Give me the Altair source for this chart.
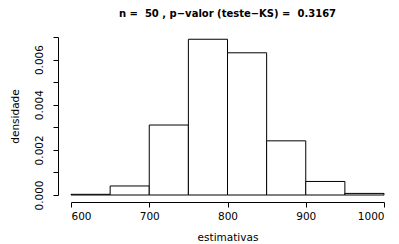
import altair as alt
import pandas as pd

# Histogram bins (estimativas) and densities
bin_start = [600, 650, 700, 750, 800, 850, 900, 950]
bin_end = [650, 700, 750, 800, 850, 900, 950, 1000]
density = [0.00003, 0.0004, 0.0031, 0.0069, 0.0063, 0.0024, 0.0006, 0.00007]

x_ticks = [600, 700, 800, 900, 1000]
y_ticks = [0.0, 0.001, 0.002, 0.003, 0.004, 0.005, 0.006, 0.007]
y_labeled = ["0.000", "0.002", "0.004", "0.006"]

title_text = "n =\u00a0 50 , p\u2212valor (teste\u2212KS) =\u00a0 0.3167"

df = pd.DataFrame({"start": bin_start, "end": bin_end, "density": density})

label_list = ",".join("'%s'" % s for s in y_labeled)
y_label_expr = (
    "indexof([" + label_list + "], format(datum.value, '.3f')) >= 0 ? "
    "format(datum.value, '.3f') : ''"
)

FONT = "DejaVu Sans"

bars = alt.Chart(df).mark_rect(
    fill="white", stroke="black", strokeWidth=1
).encode(
    x=alt.X(
        "start:Q",
        scale=alt.Scale(domain=[600, 1000], nice=False, zero=False),
        axis=alt.Axis(
            values=x_ticks,
            title="estimativas",
            offset=7,
            grid=False,
            labelPadding=4,
            titlePadding=11,
            format="d",
        ),
    ),
    x2="end:Q",
    y=alt.Y(
        "density:Q",
        scale=alt.Scale(domain=[0, 0.007], nice=False),
        axis=alt.Axis(
            values=y_ticks,
            labelExpr=y_label_expr,
            labelAngle=-90,
            labelAlign="center",
            labelBaseline="bottom",
            title="densidade",
            offset=13,
            grid=False,
            labelPadding=9,
            titlePadding=14,
        ),
    ),
    y2=alt.datum(0),
)

chart = bars.properties(
    width=313,
    height=158,
    padding={"left": 63, "top": 29, "right": 7, "bottom": 49},
    autosize=alt.AutoSizeParams(type="none"),
    title=alt.TitleParams(
        text=title_text,
        font=FONT,
        fontSize=10,
        fontWeight="bold",
        anchor="middle",
        offset=18,
        frame="group",
        color="black",
    ),
).configure_view(
    stroke=None
).configure_axis(
    domainColor="black",
    domainWidth=1,
    tickColor="black",
    tickWidth=1,
    tickSize=5,
    labelColor="black",
    labelFont=FONT,
    labelFontSize=10.5,
    titleFont=FONT,
    titleFontSize=10.5,
    titleFontWeight="normal",
    titleColor="black",
    labelOverlap=False,
)

chart.save("out.html", embed_options={"renderer": "svg", "actions": False})
